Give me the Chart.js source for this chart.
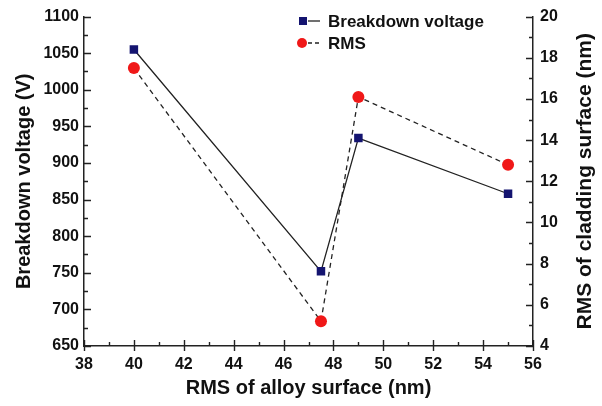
<!DOCTYPE html>
<html>
<head>
<meta charset="utf-8">
<script src="https://cdn.jsdelivr.net/npm/chart.js@4/dist/chart.umd.min.js"></script>
<style>
  html, body { margin: 0; padding: 0; background: #fff; }
  #wrap { width: 602px; height: 406px; }
</style>
</head>
<body>
<div id="wrap"><canvas id="chart" width="602" height="406"></canvas></div>
<script>
// data
var alloyRms     = [40, 47.5, 49, 55];          // x: RMS of alloy surface (nm)
var breakdownV   = [1055, 752, 934, 858];       // left axis (V)
var claddingRms  = [17.5, 5.2, 16.1, 12.8];     // right axis (nm)
var seriesNames  = ["Breakdown voltage", "RMS"];
var rightTitle   = "RMS of cladding surface (nm)";

var FONT = "'Liberation Sans', Arial, sans-serif";
var navy = "#141470";
var red  = "#f01818";

function toPoints(xs, ys){
	var out = [];
	for (var i = 0; i < xs.length; i++) out.push({x: xs[i], y: ys[i]});
	return out;
}
function plainNum(v){ return String(v); }

// inward ticks + minor ticks, drawn from the chart's own scales
var tickPlugin = {
	id: "tickPlugin",
	afterDatasetsDraw: function(chart){
		var c = chart.ctx, a = chart.chartArea;
		var sx = chart.scales.x, sl = chart.scales.yL, sr = chart.scales.yR;
		c.save();
		c.strokeStyle = "#222";
		c.lineWidth = 1.4;
		c.setLineDash([]);
		c.beginPath();
		for (var v = 38; v <= 56; v += 1){
			var px = Math.round(sx.getPixelForValue(v)) + 0.5;
			if (v % 2 === 0){ c.moveTo(px, a.bottom - 6); c.lineTo(px, a.bottom + 5); }
			else { c.moveTo(px, a.bottom - 4); c.lineTo(px, a.bottom); }
		}
		for (var w = 650; w <= 1100; w += 25){
			var py = Math.round(sl.getPixelForValue(w)) + 0.5;
			c.moveTo(a.left, py); c.lineTo(a.left + (w % 50 === 0 ? 7 : 4), py);
		}
		for (var r = 4; r <= 20; r += 1){
			var qy = Math.round(sr.getPixelForValue(r)) + 0.5;
			c.moveTo(a.right, qy); c.lineTo(a.right - (r % 2 === 0 ? 7 : 4), qy);
		}
		c.stroke();

		// right axis title, read bottom to top like the left one
		c.fillStyle = "#111";
		c.font = "bold 21px " + FONT;
		c.textAlign = "center";
		c.textBaseline = "middle";
		c.translate(585, (a.top + a.bottom) / 2);
		c.rotate(-Math.PI / 2);
		c.fillText(rightTitle, 0, 0);
		c.restore();
	}
};

// legend in the upper middle: marker, short line, label
var legendPlugin = {
	id: "legendPlugin",
	afterDraw: function(chart){
		var c = chart.ctx;
		var rows = [
			{y: 21, name: seriesNames[0], color: navy, dash: [], shape: "square"},
			{y: 43, name: seriesNames[1], color: red, dash: [4, 3], shape: "circle"}
		];
		c.save();
		rows.forEach(function(r){
			c.strokeStyle = "#222";
			c.lineWidth = 1.3;
			c.setLineDash(r.dash);
			c.beginPath(); c.moveTo(308, r.y); c.lineTo(320, r.y); c.stroke();
			c.setLineDash([]);
			c.fillStyle = r.color;
			if (r.shape === "square") c.fillRect(299, r.y - 4, 8, 8);
			else { c.beginPath(); c.arc(302, r.y, 5, 0, Math.PI * 2); c.fill(); }
			c.fillStyle = "#111";
			c.font = "bold 17px " + FONT;
			c.textAlign = "left";
			c.textBaseline = "middle";
			c.fillText(r.name, 328, r.y + 1);
		});
		c.restore();
	}
};

var ctx = document.getElementById("chart").getContext("2d");
new Chart(ctx, {
	type: "scatter",
	data: {
		datasets: [
			{
				label: seriesNames[0],
				data: toPoints(alloyRms, breakdownV),
				yAxisID: "yL",
				showLine: true,
				borderColor: "#222",
				borderWidth: 1.3,
				pointStyle: "rect",
				pointRadius: 6,
				pointBackgroundColor: navy,
				pointBorderColor: navy,
				pointBorderWidth: 0
			},
			{
				label: seriesNames[1],
				data: toPoints(alloyRms, claddingRms),
				yAxisID: "yR",
				showLine: true,
				borderColor: "#222",
				borderWidth: 1.3,
				borderDash: [5, 4],
				pointStyle: "circle",
				pointRadius: 6,
				pointBackgroundColor: red,
				pointBorderColor: red,
				pointBorderWidth: 0
			}
		]
	},
	options: {
		responsive: false,
		animation: false,
		layout: { padding: { top: 15, left: 0, right: 0, bottom: 0 } },
		plugins: { legend: { display: false }, tooltip: { enabled: false } },
		scales: {
			x: {
				type: "linear", min: 38, max: 56,
				grid: { display: false, drawTicks: false },
				border: { display: true, color: "#222", width: 1.5 },
				ticks: { stepSize: 2, padding: 9, color: "#111", callback: plainNum,
					font: { family: FONT, size: 16, weight: "bold" } },
				title: { display: true, text: "RMS of alloy surface (nm)", color: "#111", padding: { top: 2, bottom: 6 },
					font: { family: FONT, size: 20, weight: "bold" } },
				afterFit: function(s){ s.height = 60; }
			},
			yL: {
				type: "linear", position: "left", min: 650, max: 1100,
				grid: { display: false, drawTicks: false },
				border: { display: true, color: "#222", width: 1.5 },
				ticks: { stepSize: 50, padding: 5, color: "#111", callback: plainNum,
					font: { family: FONT, size: 16, weight: "bold" } },
				title: { display: true, text: "Breakdown voltage (V)", color: "#111", padding: { top: 12, bottom: 0 },
					font: { family: FONT, size: 20, weight: "bold" } },
				afterFit: function(s){ s.width = 84; }
			},
			yR: {
				type: "linear", position: "right", min: 4, max: 20,
				grid: { display: false, drawTicks: false },
				border: { display: true, color: "#222", width: 1.5 },
				ticks: { stepSize: 2, padding: 7, color: "#111", callback: plainNum,
					font: { family: FONT, size: 16, weight: "bold" } },
				title: { display: false },
				afterFit: function(s){ s.width = 69; }
			}
		}
	},
	plugins: [tickPlugin, legendPlugin]
});
</script>
</body>
</html>
